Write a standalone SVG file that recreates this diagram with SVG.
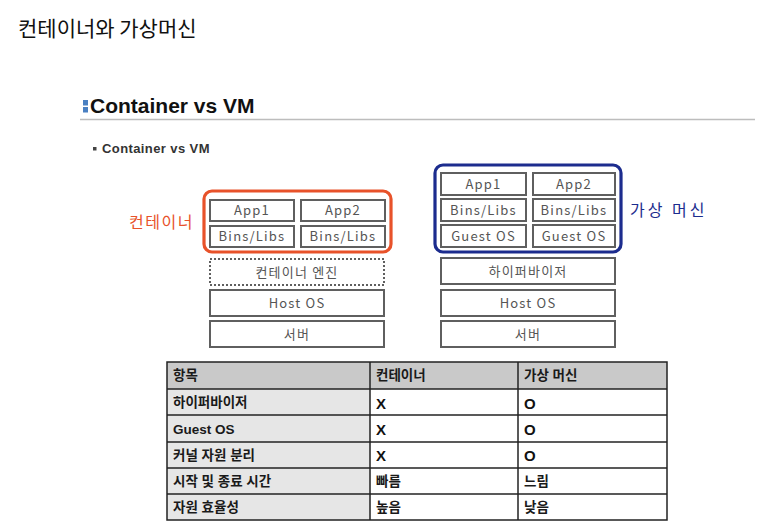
<svg xmlns="http://www.w3.org/2000/svg" width="778" height="530" viewBox="0 0 778 530">
<style>
.title{font-family:"Noto Sans CJK KR","Noto Sans",sans-serif;font-size:21px;fill:#111;font-weight:400}
.h1{font-family:"Liberation Sans",Arial,sans-serif;font-size:21px;font-weight:bold;fill:#111}
.h2{font-family:"Liberation Sans",Arial,sans-serif;font-size:13px;font-weight:bold;fill:#333;letter-spacing:0.4px}
.box{fill:#fff;stroke:#5f5f5f;stroke-width:2}
.dbox{fill:#fff;stroke:#5f5f5f;stroke-width:2;stroke-dasharray:2 2}
.bt{font-family:"Noto Sans CJK KR","Noto Sans",sans-serif;font-size:13px;fill:#555;text-anchor:middle;letter-spacing:1.2px}
.org{fill:none;stroke:#e8522a;stroke-width:3.2}
.blu{fill:none;stroke:#1c2c8e;stroke-width:3.2}
.lo{font-family:"Noto Sans CJK KR","Noto Sans",sans-serif;font-size:16px;fill:#e8522a;letter-spacing:1.5px}
.lb{font-family:"Noto Sans CJK KR","Noto Sans",sans-serif;font-size:16px;fill:#1c2c8e;letter-spacing:3px}
.tc{stroke:#222;stroke-width:1.5}
.tt{font-family:"Liberation Sans","Noto Sans CJK KR",sans-serif;font-size:13.5px;font-weight:bold;fill:#1a1a1a}
.tx{font-family:"Liberation Sans",Arial,sans-serif;font-size:15px;font-weight:bold;fill:#111}
</style>
<rect width="778" height="530" fill="#fff"/>
<text class="title" x="18" y="36">컨테이너와 가상머신</text>
<g id="heading">
<rect x="83" y="100" width="5" height="5.5" fill="#4a80c2"/>
<rect x="83" y="107" width="5" height="5.5" fill="#4a80c2"/>
<text class="h1" x="90" y="113">Container vs VM</text>
<line x1="80" y1="119.5" x2="755" y2="119.5" stroke="#bdbdbd" stroke-width="1.5"/>
<rect x="93" y="147" width="3.5" height="3.5" fill="#444"/>
<text class="h2" x="102" y="153">Container vs VM</text>
</g>
<g id="container-stack">
<g id="c-app1"><rect class="box" x="210" y="200" width="84" height="21"/><text class="bt" x="252" y="215">App1</text></g>
<g id="c-app2"><rect class="box" x="301" y="200" width="84" height="21"/><text class="bt" x="343" y="215">App2</text></g>
<g id="c-bins1"><rect class="box" x="210" y="226" width="84" height="21"/><text class="bt" x="252" y="241">Bins/Libs</text></g>
<g id="c-bins2"><rect class="box" x="301" y="226" width="84" height="21"/><text class="bt" x="343" y="241">Bins/Libs</text></g>
<g id="c-group"><rect class="org" x="204" y="191" width="187" height="61" rx="8"/><text class="lo" x="129" y="228">컨테이너</text></g>
<g id="c-engine"><rect class="dbox" x="210" y="259" width="174" height="26"/><text class="bt" x="297" y="277">컨테이너 엔진</text></g>
<g id="c-host"><rect class="box" x="210" y="290" width="174" height="26"/><text class="bt" x="297" y="308">Host OS</text></g>
<g id="c-server"><rect class="box" x="210" y="321" width="174" height="26"/><text class="bt" x="297" y="339">서버</text></g>
</g>
<g id="vm-stack">
<g id="v-app1"><rect class="box" x="441" y="173" width="85" height="22"/><text class="bt" x="483.5" y="189">App1</text></g>
<g id="v-app2"><rect class="box" x="533" y="173" width="82" height="22"/><text class="bt" x="574" y="189">App2</text></g>
<g id="v-bins1"><rect class="box" x="441" y="199" width="85" height="22"/><text class="bt" x="483.5" y="215">Bins/Libs</text></g>
<g id="v-bins2"><rect class="box" x="533" y="199" width="82" height="22"/><text class="bt" x="574" y="215">Bins/Libs</text></g>
<g id="v-guest1"><rect class="box" x="441" y="225" width="85" height="22"/><text class="bt" x="483.5" y="241">Guest OS</text></g>
<g id="v-guest2"><rect class="box" x="533" y="225" width="82" height="22"/><text class="bt" x="574" y="241">Guest OS</text></g>
<g id="v-group"><rect class="blu" x="435" y="165" width="186" height="87" rx="8"/><text class="lb" x="630" y="216">가상 머신</text></g>
<g id="v-hyper"><rect class="box" x="441" y="258" width="174" height="26"/><text class="bt" x="528" y="276">하이퍼바이저</text></g>
<g id="v-host"><rect class="box" x="441" y="290" width="174" height="26"/><text class="bt" x="528" y="308">Host OS</text></g>
<g id="v-server"><rect class="box" x="441" y="321" width="174" height="26"/><text class="bt" x="528" y="339">서버</text></g>
</g>
<g id="connectors"/>
<g id="table">
<rect x="167" y="362" width="500" height="27" fill="#c9c9c9"/>
<rect x="167" y="389" width="203" height="131" fill="#e6e6e6"/>
<rect x="167" y="362" width="500" height="158" fill="none" class="tc"/>
<line class="tc" x1="167" y1="389" x2="667" y2="389"/>
<line class="tc" x1="167" y1="415" x2="667" y2="415"/>
<line class="tc" x1="167" y1="442" x2="667" y2="442"/>
<line class="tc" x1="167" y1="468" x2="667" y2="468"/>
<line class="tc" x1="167" y1="494" x2="667" y2="494"/>
<line class="tc" x1="370" y1="362" x2="370" y2="520"/>
<line class="tc" x1="518" y1="362" x2="518" y2="520"/>
<text class="tt" x="173" y="380">항목</text><text class="tt" x="376" y="380">컨테이너</text><text class="tt" x="524" y="380">가상 머신</text>
<text class="tt" x="173" y="407">하이퍼바이저</text><text class="tx" x="376" y="409">X</text><text class="tx" x="524" y="409">O</text>
<text class="tt" x="173" y="434">Guest OS</text><text class="tx" x="376" y="435">X</text><text class="tx" x="524" y="435">O</text>
<text class="tt" x="173" y="460">커널 자원 분리</text><text class="tx" x="376" y="461">X</text><text class="tx" x="524" y="461">O</text>
<text class="tt" x="173" y="486">시작 및 종료 시간</text><text class="tt" x="376" y="486">빠름</text><text class="tt" x="524" y="486">느림</text>
<text class="tt" x="173" y="512">자원 효율성</text><text class="tt" x="376" y="512">높음</text><text class="tt" x="524" y="512">낮음</text>
</g>
</svg>
